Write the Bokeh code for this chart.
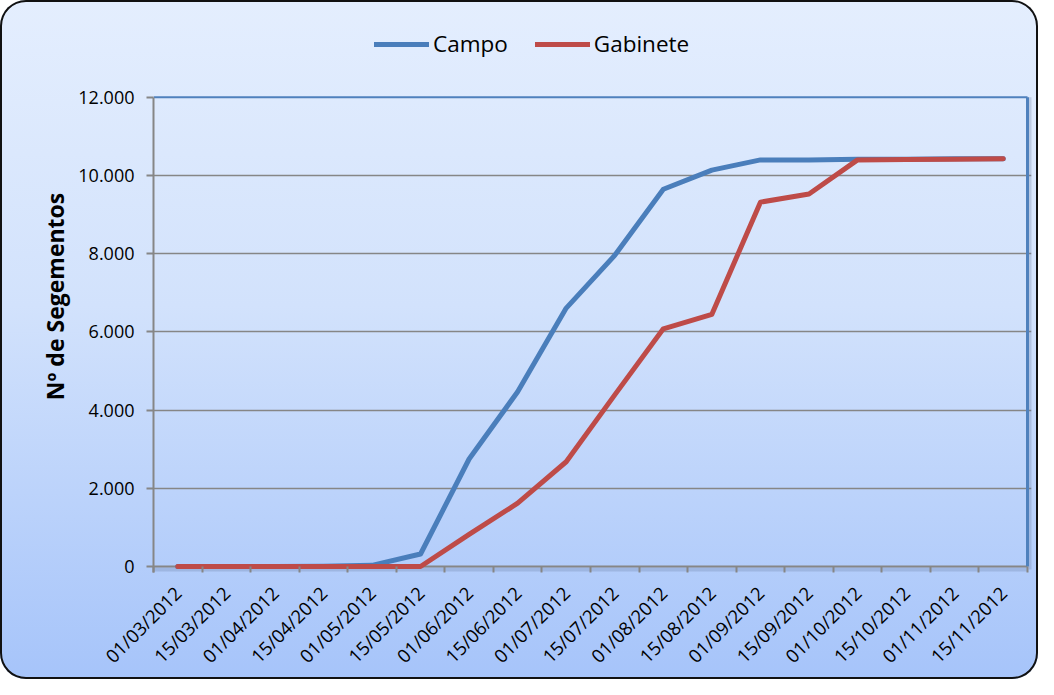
import numpy as np
from bokeh.plotting import figure
from bokeh.models import Range1d, FixedTicker, Legend, LegendItem
from bokeh.embed import file_html
from bokeh.resources import INLINE

# ---- data ----
dates = ["01/03/2012", "15/03/2012", "01/04/2012", "15/04/2012", "01/05/2012",
         "15/05/2012", "01/06/2012", "15/06/2012", "01/07/2012", "15/07/2012",
         "01/08/2012", "15/08/2012", "01/09/2012", "15/09/2012", "01/10/2012",
         "15/10/2012", "01/11/2012", "15/11/2012"]
campo = [0, 0, 0, 5, 30, 320, 2750, 4470, 6610, 7960, 9650, 10140,
         10400, 10400, 10420, 10420, 10430, 10430]
gabinete = [0, 0, 0, 0, 0, 0, 820, 1620, 2680, 4390, 6080, 6450,
            9320, 9530, 10400, 10410, 10420, 10430]
y_ticks = [0, 2000, 4000, 6000, 8000, 10000, 12000]
y_tick_labels = ["0", "2.000", "4.000", "6.000", "8.000", "10.000", "12.000"]
series_names = ["Campo", "Gabinete"]
y_title = "Nº de Segementos"

n = len(dates)
ymax = y_ticks[-1]
xc = np.arange(n) + 0.5          # category centres
bounds = list(np.arange(n + 1))  # category boundaries

FONT = "Open Sans"
GRID = "#868686"
BLUE = "#4A7EBB"
RED = "#BE4B48"
BORDER_BLUE = "#4F81BD"

# layout (pixels)
W, H = 1038, 679
left, right_b, top_b, bottom_b = 153, 7, 20, 106
plot_w_px = 874          # width of the category area
plot_h_px = 470          # height of 0..ymax
frame_w = W - left - right_b
frame_h = H - top_b - bottom_b
u_y = ymax / plot_h_px
u_x = n / plot_w_px
y0 = -6 * u_y
y1 = y0 + frame_h * u_y
x1 = frame_w * u_x

p = figure(width=W, height=H, output_backend="svg", toolbar_location=None,
           x_range=Range1d(0, x1), y_range=Range1d(y0, y1),
           min_border_left=left, min_border_right=right_b, min_border_top=top_b,
           min_border_bottom=bottom_b)

p.styles = {
    "background": "linear-gradient(to bottom, #E4EEFE 0%, #D2E2FC 45%, #A6C4FA 100%)",
    "border-radius": "26px",
    "box-shadow": "inset 0 0 0 2px #111111",
}
p.border_fill_alpha = 0
p.background_fill_alpha = 0
p.outline_line_color = None

# axes
xa = p.xaxis[0]
xa.bounds = (0, n)
xa.ticker = FixedTicker(ticks=list(xc), minor_ticks=bounds)
xa.major_label_overrides = {float(c): d for c, d in zip(xc, dates)}
xa.major_label_orientation = np.pi / 4
xa.major_tick_line_color = None
xa.major_tick_out = 0
xa.major_tick_in = 0
xa.minor_tick_line_color = GRID
xa.minor_tick_line_width = 2
xa.minor_tick_out = 0
xa.minor_tick_in = 6
xa.axis_line_color = None
xa.major_label_standoff = 17
xa.major_label_text_font = FONT
xa.major_label_text_font_size = "18.5px"
xa.major_label_text_color = "#000000"

ya = p.yaxis[0]
ya.bounds = (y0, ymax)
ya.ticker = FixedTicker(ticks=y_ticks)
ya.major_label_overrides = {t: l for t, l in zip(y_ticks, y_tick_labels)}
ya.major_tick_line_color = GRID
ya.major_tick_line_width = 2
ya.major_tick_out = 7
ya.major_tick_in = 0
ya.minor_tick_line_color = None
ya.axis_line_color = GRID
ya.axis_line_width = 2
ya.major_label_standoff = 12
ya.major_label_text_font = FONT
ya.major_label_text_font_size = "18px"
ya.major_label_text_color = "#000000"
ya.axis_label = y_title
ya.axis_label_text_font = FONT
ya.axis_label_text_font_style = "bold"
ya.axis_label_text_font_size = "23px"
ya.axis_label_text_color = "#000000"
ya.axis_label_standoff = 4

p.xgrid.visible = False
p.ygrid.ticker = FixedTicker(ticks=y_ticks[1:-1])
p.ygrid.bounds = (0, n)
p.ygrid.grid_line_color = GRID
p.ygrid.grid_line_width = 1.5

# soft shadow below / right of the plot area
p.segment(x0=[0, n + 3 * u_x], y0=[-3 * u_y, -3 * u_y], x1=[n, n + 3 * u_x], y1=[-3 * u_y, ymax],
          line_color="#5F7598", line_alpha=0.25, line_width=4)
# x axis line at zero, plot-area border (top / right in blue)
p.segment(x0=[0], y0=[0], x1=[n], y1=[0], line_color=GRID, line_width=2)
p.segment(x0=[0, n], y0=[ymax, 0], x1=[n, n], y1=[ymax, ymax],
          line_color=BORDER_BLUE, line_width=[2, 3])

# series
r1 = p.line(xc, campo, line_color=BLUE, line_width=5, line_cap="round", line_join="round")
r2 = p.line(xc, gabinete, line_color=RED, line_width=5, line_cap="round", line_join="round")

lg = Legend(items=[LegendItem(label=series_names[0], renderers=[r1]),
                   LegendItem(label=series_names[1], renderers=[r2])])
lg.orientation = "horizontal"
lg.location = (221, frame_h - 40)
lg.background_fill_alpha = 0
lg.border_line_color = None
lg.padding = 0
lg.margin = 0
lg.spacing = 27
lg.glyph_width = 55
lg.label_standoff = 4
lg.label_text_font = FONT
lg.label_text_font_size = "22.5px"
lg.label_text_color = "#000000"
p.add_layout(lg, "center")

open("out.html", "w").write(file_html(p, INLINE))
